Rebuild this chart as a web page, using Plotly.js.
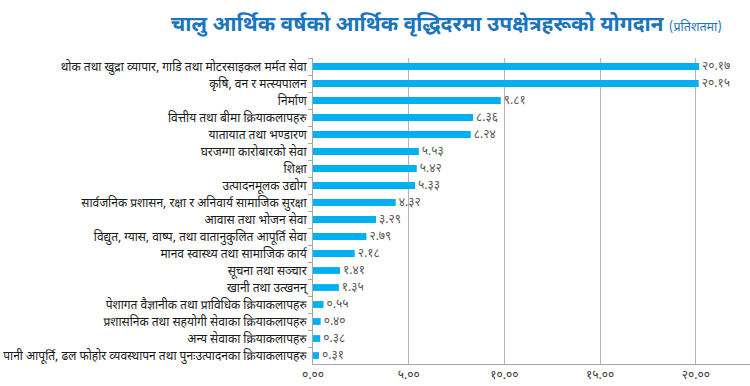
<!DOCTYPE html>
<html>
<head>
<meta charset="utf-8">
<script src="https://cdn.plot.ly/plotly-3.0.1.min.js"></script>
<style>html,body{margin:0;padding:0;background:#fff;}#chart{width:750px;height:386px;}</style>
</head>
<body>
<div id="chart"></div>
<script>
const categories = [
  "थोक तथा खुद्रा व्यापार, गाडि तथा मोटरसाइकल मर्मत सेवा",
  "कृषि, वन र मत्स्यपालन",
  "निर्माण",
  "वित्तीय तथा बीमा क्रियाकलापहरु",
  "यातायात तथा भण्डारण",
  "घरजग्गा कारोबारको सेवा",
  "शिक्षा",
  "उत्पादनमूलक उद्योग",
  "सार्वजनिक प्रशासन, रक्षा र अनिवार्य सामाजिक सुरक्षा",
  "आवास तथा भोजन सेवा",
  "विद्युत, ग्यास, वाष्प, तथा वातानुकुलित आपूर्ति सेवा",
  "मानव स्वास्थ्य तथा सामाजिक कार्य",
  "सूचना तथा सञ्चार",
  "खानी तथा उत्खनन्",
  "पेशागत वैज्ञानीक तथा प्राविधिक क्रियाकलापहरु",
  "प्रशासनिक तथा सहयोगी सेवाका क्रियाकलापहरु",
  "अन्य सेवाका क्रियाकलापहरु",
  "पानी आपूर्ति, ढल फोहोर व्यवस्थापन तथा पुनःउत्पादनका क्रियाकलापहरु"
];
const values = [20.17, 20.15, 9.81, 8.36, 8.24, 5.53, 5.42, 5.33, 4.32, 3.29, 2.79, 2.18, 1.41, 1.35, 0.55, 0.40, 0.38, 0.31];
const valueLabels = ["२०.१७","२०.१५","९.८१","८.३६","८.२४","५.५३","५.४२","५.३३","४.३२","३.२९","२.७९","२.१८","१.४१","१.३५","०.५५","०.४०","०.३८","०.३१"];
const xTickVals = [0, 5, 10, 15, 20];
const xTickText = ["०.००","५.००","१०.००","१५.००","२०.००"];

const fontFam = "'Noto Sans Devanagari', 'Lohit Devanagari', 'Noto Serif Devanagari', 'Noto Sans', sans-serif";

const trace = {
  type: 'bar',
  orientation: 'h',
  y: categories,
  x: values,
  text: valueLabels,
  textposition: 'outside',
  constraintext: 'none',
  cliponaxis: false,
  textfont: {family: fontFam, size: 12, color: '#595959'},
  marker: {color: '#00b0f0'},
  hoverinfo: 'x+y'
};

const layout = {
  width: 750, height: 386,
  margin: {l: 313, r: 0, t: 58, b: 22},
  paper_bgcolor: '#fff', plot_bgcolor: '#fff',
  bargap: 0.6,
  showlegend: false,
  font: {family: fontFam},
  title: {
    text: "चालु आर्थिक वर्षको आर्थिक वृद्धिदरमा उपक्षेत्रहरूको योगदान <span style='font-size:12.5px;font-weight:normal'>(प्रतिशतमा)</span>",
    font: {family: fontFam, size: 21, color: '#1a75bc', weight: 'bold'},
    xref: 'container', x: 0.595, xanchor: 'center',
    yref: 'container', y: 0.94, yanchor: 'middle'
  },
  xaxis: {
    range: [0, 22.83],
    tickvals: xTickVals, ticktext: xTickText,
    tickfont: {family: fontFam, size: 12, color: '#404040'},
    ticklabelstandoff: 0,
    showgrid: true, gridcolor: '#b3b3b3', gridwidth: 1,
    zeroline: false,
    showline: true, linecolor: '#a6a6a6', linewidth: 1,
    ticks: '', fixedrange: true
  },
  yaxis: {
    type: 'category',
    autorange: 'reversed',
    tickfont: {family: fontFam, size: 12, color: '#1a1a1a'},
    ticklabelstandoff: 3,
    showline: true, linecolor: '#a6a6a6', linewidth: 1,
    ticks: 'outside', tickson: 'boundaries', ticklen: 4, tickcolor: '#a6a6a6',
    showgrid: false, zeroline: false, fixedrange: true
  }
};

Plotly.newPlot('chart', [trace], layout, {displayModeBar: false, staticPlot: true});
</script>
</body>
</html>
